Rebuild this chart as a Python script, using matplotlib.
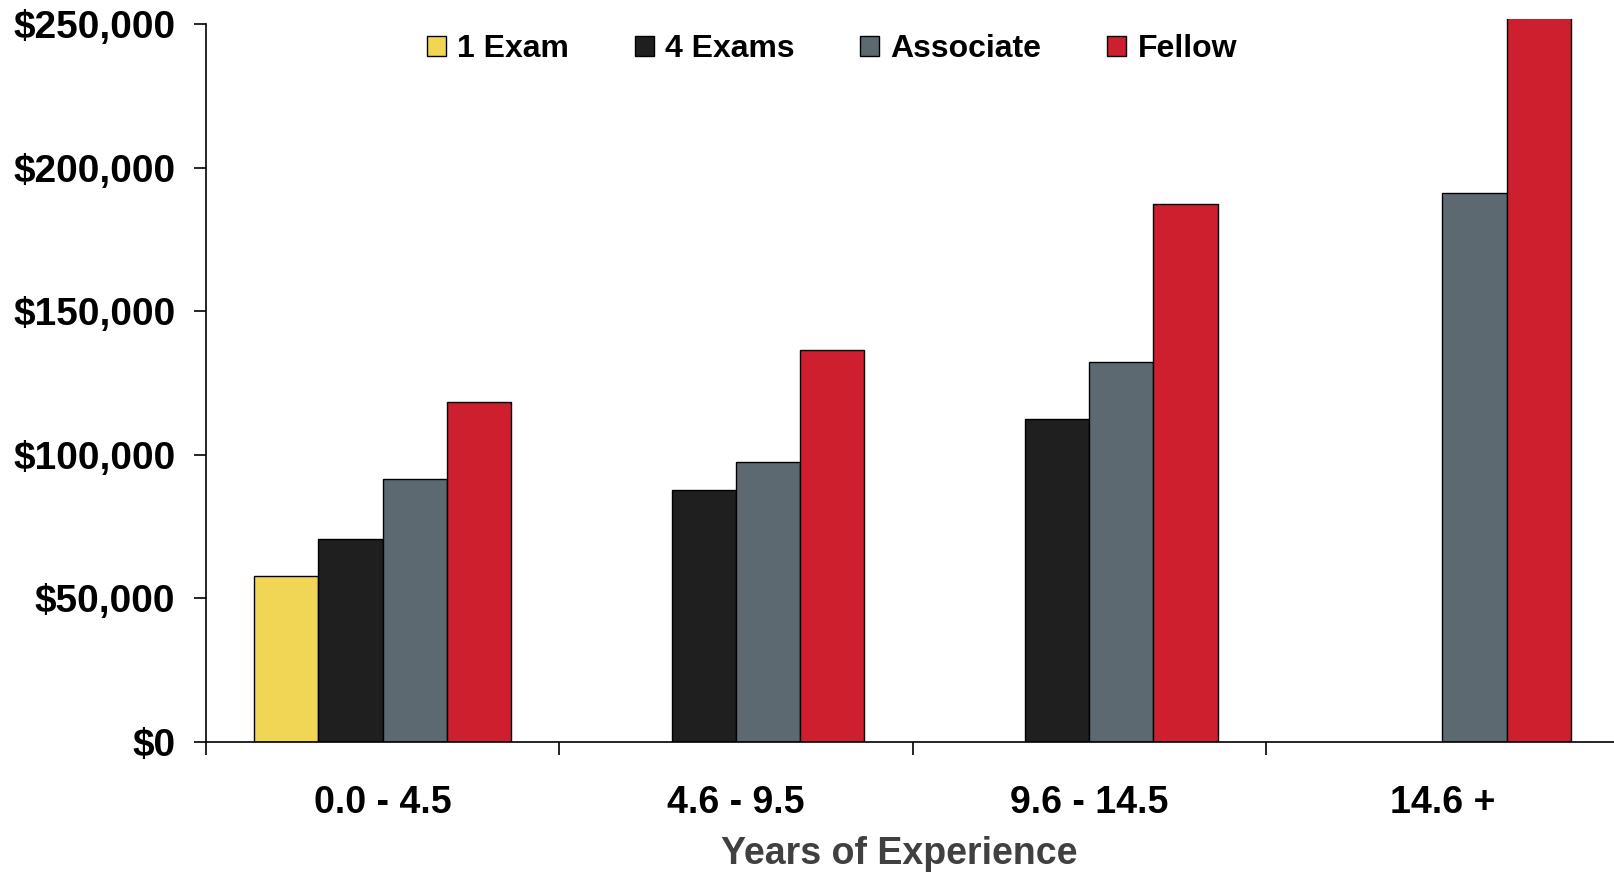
import matplotlib
matplotlib.use("Agg")
import matplotlib.pyplot as plt
import numpy as np

# Salary by years of experience and credential level
categories = ["0.0 - 4.5", "4.6 - 9.5", "9.6 - 14.5", "14.6 +"]
series_names = ["1 Exam", "4 Exams", "Associate", "Fellow"]
one_exam = [57700, np.nan, np.nan, np.nan]
four_exams = [70700, 87900, 112300, np.nan]
associate = [91500, 97600, 132400, 191200]
fellow = [118400, 136300, 187200, 258000]
y_ticks = [0, 50000, 100000, 150000, 200000, 250000]

colors = ["#F1D555", "#1F1F1F", "#5D6971", "#CD1F2E"]

plt.rcParams["font.family"] = ["Liberation Sans", "DejaVu Sans"]
plt.rcParams["font.weight"] = "bold"

fig = plt.figure(figsize=(16.14, 8.73), dpi=100)
ax = fig.add_axes([206 / 1614, 1 - 742 / 873, 1413 / 1614, (742 - 19) / 873])

x = np.arange(len(categories))
width = 0.182
all_series = [one_exam, four_exams, associate, fellow]
handles = []
for i, (vals, name, col) in enumerate(zip(all_series, series_names, colors)):
    offs = (i - 1.5) * width
    b = ax.bar(x + offs, vals, width, color=col, edgecolor="black",
               linewidth=1.0, label=name, zorder=2)
    handles.append(b)

ax.set_xlim(-0.5, 3.5)
ax.set_ylim(0, 251700)
ax.spines["left"].set_bounds(0, 250000)
for s in ["top", "right"]:
    ax.spines[s].set_visible(False)
for s in ["left", "bottom"]:
    ax.spines[s].set_linewidth(1.2)
    ax.spines[s].set_zorder(3)

ax.set_yticks(y_ticks)
ax.set_yticklabels(["${:,}".format(v) for v in y_ticks])
ax.tick_params(axis="y", length=9, width=1.2, pad=13, labelsize=28)

ax.set_xticks(x)
ax.set_xticklabels(categories)
ax.set_xticks(np.arange(-0.5, 4.0, 1.0), minor=True)
ax.tick_params(axis="x", which="major", length=0, pad=31, labelsize=27)
ax.tick_params(axis="x", which="minor", length=9, width=1.2)

ax.set_xlabel("Years of Experience", fontsize=27, color="#404040",
              fontweight="bold", labelpad=11)
ax.xaxis.label.set_x((899 - 206) / 1413)

fig.legend(handles=handles, labels=series_names, loc="center",
           bbox_to_anchor=(832 / 1614, 1 - 49 / 873), ncol=4, frameon=False,
           handlelength=0.6, handleheight=0.6, handletextpad=0.35,
           columnspacing=2.05, prop={"weight": "bold", "size": 23})

fig.savefig("out.png", dpi=100)
